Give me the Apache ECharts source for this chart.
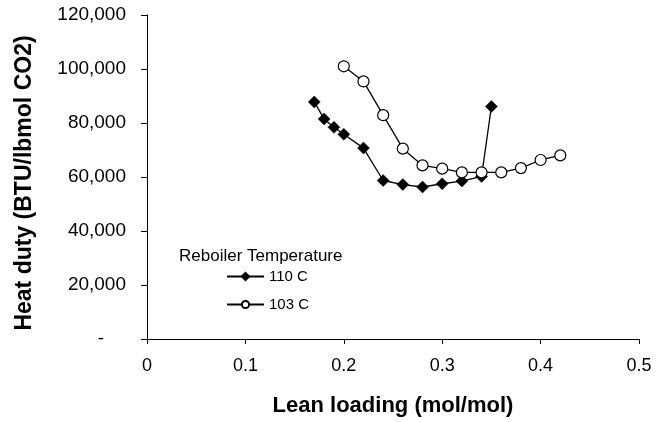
<!DOCTYPE html>
<html>
<head>
<meta charset="utf-8">
<script src="https://cdn.jsdelivr.net/npm/echarts@6/dist/echarts.min.js"></script>
<style>html,body{margin:0;padding:0;background:#fff;}#c{width:658px;height:422px;}</style>
</head>
<body>
<div id="c"></div>
<script>
var loading110 = [0.17, 0.18, 0.19, 0.20, 0.22, 0.24, 0.26, 0.28, 0.30, 0.32, 0.34, 0.35];
var duty110 = [87800, 81500, 78400, 75800, 70700, 58700, 57200, 56300, 57500, 58500, 60200, 86100];
var loading103 = [0.20, 0.22, 0.24, 0.26, 0.28, 0.30, 0.32, 0.34, 0.36, 0.38, 0.40, 0.42];
var duty103 = [101000, 95400, 82900, 70500, 64300, 63100, 61700, 61700, 61700, 63300, 66300, 68000];
var seriesNames = ['110 C', '103 C'];
var legendTitle = 'Reboiler Temperature';
var xTitle = 'Lean loading (mol/mol)';
var yTitle = 'Heat duty (BTU/lbmol CO2)';

function pairs(xs, ys) { return xs.map(function (x, i) { return [x, ys[i]]; }); }

var font = 'Arial, "Liberation Sans", sans-serif';
var chart = echarts.init(document.getElementById('c'), null, {renderer: 'canvas'});
chart.setOption({
  animation: false,
  backgroundColor: '#fff',
  title: {
    text: legendTitle,
    left: 174, top: 243,
    textStyle: {fontFamily: font, fontSize: 17, fontWeight: 'normal', color: '#000'}
  },
  legend: {
    orient: 'vertical',
    left: 221, top: 264,
    itemWidth: 37, itemHeight: 9,
    itemGap: 13,
    textStyle: {fontFamily: font, fontSize: 15, color: '#000'},
    data: seriesNames
  },
  grid: {left: 147, top: 15, right: 19, bottom: 80},
  xAxis: {
    type: 'value', min: 0, max: 0.5, interval: 0.1,
    name: xTitle, nameLocation: 'middle', nameGap: 56,
    nameTextStyle: {fontFamily: font, fontSize: 22, fontWeight: 'bold', color: '#000'},
    axisLine: {lineStyle: {color: '#000', width: 1}},
    axisTick: {show: true, inside: false, length: 5, lineStyle: {color: '#000'}},
    axisLabel: {fontFamily: font, fontSize: 18, color: '#000', margin: 18,
      formatter: function (v) { return String(Math.round(v * 10) / 10); }},
    splitLine: {show: false}
  },
  yAxis: {
    type: 'value', min: 0, max: 120000, interval: 20000,
    name: yTitle, nameLocation: 'middle', nameGap: 111, nameRotate: 90,
    nameTextStyle: {fontFamily: font, fontSize: 23, fontWeight: 'bold', color: '#000', padding: [0, 12, 0, 0]},
    axisLine: {show: true, lineStyle: {color: '#000', width: 1}},
    axisTick: {show: true, inside: false, length: 6, lineStyle: {color: '#000'}},
    axisLabel: {fontFamily: font, fontSize: 19, color: '#000', margin: 21,
      formatter: function (v) { return v === 0 ? '{d|-}' : v.toLocaleString('en-US'); },
      rich: {d: {fontFamily: font, fontSize: 19, color: '#000', padding: [0, 22, 0, 0]}}},
    splitLine: {show: false}
  },
  series: [
    {
      name: seriesNames[0], type: 'line', data: pairs(loading110, duty110),
      symbol: 'diamond', symbolSize: 12,
      lineStyle: {color: '#000', width: 1.3},
      itemStyle: {color: '#000', borderColor: '#000', borderWidth: 0.5},
      z: 2
    },
    {
      name: seriesNames[1], type: 'line', data: pairs(loading103, duty103),
      symbol: 'circle', symbolSize: 11,
      lineStyle: {color: '#000', width: 1.3},
      itemStyle: {color: '#fff', borderColor: '#000', borderWidth: 1.2},
      z: 3
    }
  ]
});
</script>
</body>
</html>
